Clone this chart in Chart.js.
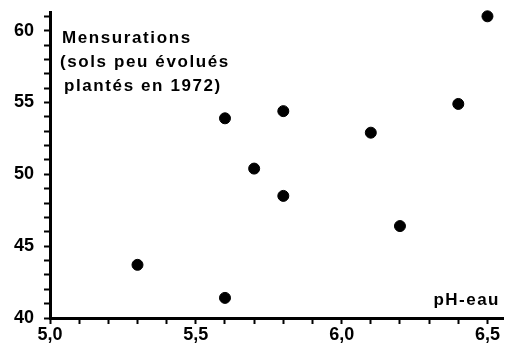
<!DOCTYPE html>
<html>
<head>
<meta charset="utf-8">
<script src="https://cdn.jsdelivr.net/npm/chart.js@4"></script>
<style>
  html, body { margin: 0; padding: 0; background: #fff; }
  #wrap { width: 510px; height: 350px; }
</style>
</head>
<body>
<div id="wrap"><canvas id="myChart"></canvas></div>
<script>
// pH-eau vs mensurations
var phEau = [5.3, 5.6, 5.6, 5.7, 5.8, 5.8, 6.1, 6.2, 6.4, 6.5];
var mensurations = [43.7, 53.9, 41.4, 50.4, 54.4, 48.5, 52.9, 46.4, 54.9, 61.0];
var xTickValues = [5.0, 5.5, 6.0, 6.5];
var xTickLabels = ['5,0', '5,5', '6,0', '6,5'];
var yTickLabels = [40, 45, 50, 55, 60];
var noteLines = ['Mensurations', '(sols peu évolués', 'plantés en 1972)'];
var axisTitle = 'pH-eau';

var points = phEau.map(function (x, i) { return { x: x, y: mensurations[i] }; });
var font = 'Liberation Sans, Arial, sans-serif';

var textPlugin = {
  id: 'texts',
  afterDraw: function (chart) {
    var c = chart.ctx;
    c.save();
    c.fillStyle = '#000';
    c.font = 'bold 17px ' + font;
    c.letterSpacing = '1.6px';
    c.textBaseline = 'alphabetic';
    c.textAlign = 'left';
    c.fillText(noteLines[0], 62, 43);
    c.fillText(noteLines[1], 60, 67);
    c.fillText(noteLines[2], 64, 91);
    c.letterSpacing = '1.5px';
    c.textAlign = 'right';
    c.fillText(axisTitle, 500, 305);
    c.restore();
  }
};

function near(v, list) {
  for (var i = 0; i < list.length; i++) {
    if (Math.abs(v - list[i]) < 1e-6) return i;
  }
  return -1;
}

var ctx = document.getElementById('myChart').getContext('2d');
var chart = new Chart(ctx, {
  type: 'scatter',
  data: {
    datasets: [{
      data: points,
      backgroundColor: '#000',
      borderColor: '#000',
      pointRadius: 5.5,
      pointHoverRadius: 5.5,
      clip: false
    }]
  },
  options: {
    responsive: true,
    maintainAspectRatio: false,
    animation: false,
    layout: { padding: { top: 12, right: 0, left: 0, bottom: 0 } },
    plugins: { legend: { display: false }, tooltip: { enabled: false } },
    scales: {
      x: {
        type: 'linear',
        min: 5.0,
        max: 6.555,
        afterFit: function (s) { s.height = 32; },
        border: { display: true, color: '#000', width: 3 },
        grid: { drawOnChartArea: false, color: '#000', tickLength: 6, tickWidth: 2 },
        ticks: {
          stepSize: 0.1,
          includeBounds: false,
          autoSkip: false,
          maxRotation: 0,
          padding: 0,
          color: '#000',
          font: { family: font, size: 18, weight: 'bold' },
          callback: function (v) {
            var i = near(v, xTickValues);
            return i >= 0 ? xTickLabels[i] : '';
          }
        }
      },
      y: {
        type: 'linear',
        min: 40,
        max: 61.3,
        afterFit: function (s) { s.width = 50; s.paddingTop = 0; s.paddingBottom = 0; },
        border: { display: true, color: '#000', width: 3 },
        grid: { drawOnChartArea: false, color: '#000', tickLength: 6, tickWidth: 2 },
        ticks: {
          stepSize: 1,
          includeBounds: false,
          autoSkip: false,
          padding: 10,
          color: '#000',
          font: { family: font, size: 18, weight: 'bold' },
          callback: function (v) {
            return near(v, yTickLabels) >= 0 ? String(v) : '';
          }
        }
      }
    }
  },
  plugins: [textPlugin]
});
</script>
</body>
</html>
